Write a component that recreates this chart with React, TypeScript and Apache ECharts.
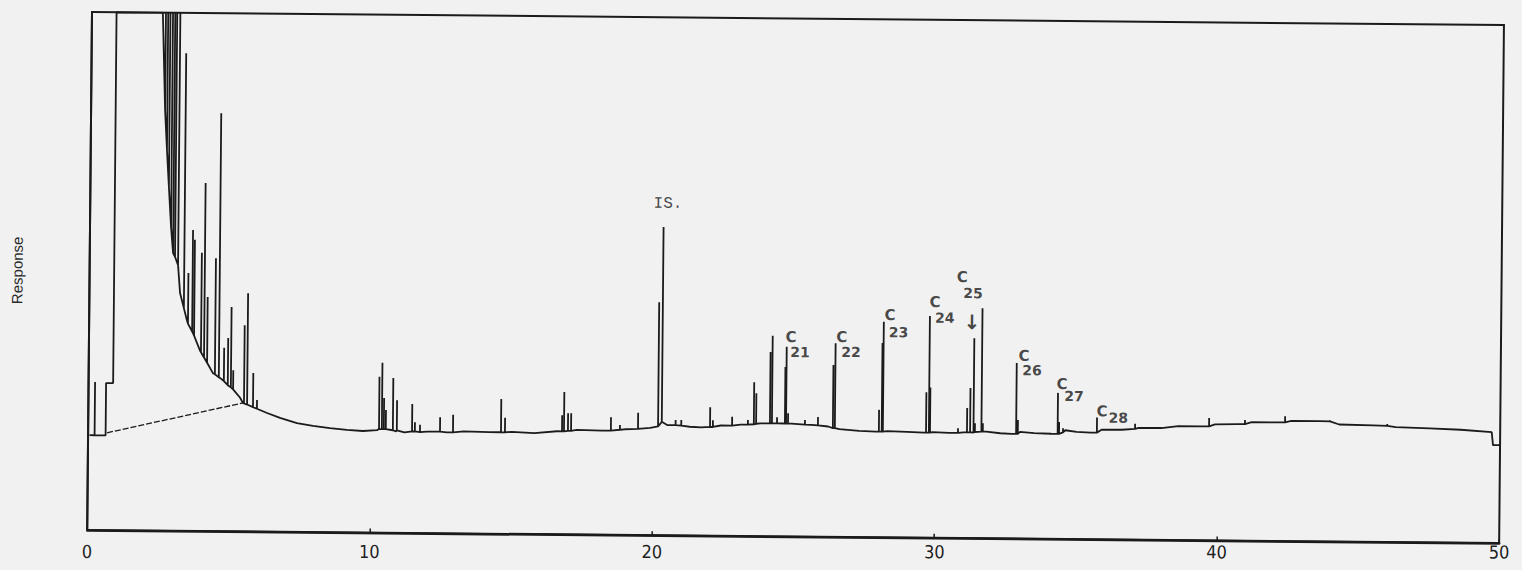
import { useEffect, useRef } from 'react';
import * as echarts from 'echarts';

// Retention-time axis ticks (minutes)
const xTicks = [0, 10, 20, 30, 40, 50];

// Detector trace between the peaks: [retention time, response]
const baseline: [number, number][] = [
  [0.05, 18.3], [0.62, 18.3], [0.62, 28.4], [0.87, 28.4], [0.87, 100], [2.51, 100],
  [2.62, 81.2], [2.7, 73.5], [2.78, 66.4], [2.87, 58.6], [2.95, 53.6], [3.02, 52.9], [3.13, 51.3],
  [3.21, 45.9], [3.46, 40.7], [3.68, 38.2], [3.93, 34.9], [4.19, 32.5], [4.4, 30.5],
  [4.65, 29.6], [5.01, 27.9], [5.37, 25.8], [5.47, 24.8], [5.83, 24.0], [6.33, 22.9],
  [6.79, 22.0], [7.39, 21.0], [7.96, 20.5], [8.56, 20.1], [9.16, 19.8], [9.73, 19.6],
  [10.23, 19.8], [10.9, 19.6], [11.2, 19.4], [12.0, 19.6], [12.7, 19.5], [13.3, 19.7],
  [14.2, 19.6], [15.0, 19.7], [15.8, 19.5], [16.6, 19.9], [17.3, 20.2], [18.2, 20.1],
  [19.0, 20.4], [19.9, 20.7], [20.5, 21.3], [21.3, 21.0], [21.7, 20.9], [22.4, 21.3],
  [23.1, 21.5], [23.8, 21.8], [24.9, 21.8], [25.6, 21.6], [26.2, 21.3], [26.6, 20.8],
  [27.3, 20.5], [27.9, 20.4], [28.3, 20.5], [29.0, 20.4], [29.6, 20.3], [29.9, 20.4],
  [30.5, 20.3], [31.0, 20.4], [31.8, 20.6], [32.3, 20.3], [32.7, 20.2], [33.0, 20.6],
  [33.5, 20.4], [34.1, 20.3], [34.6, 21.0], [35.0, 20.7], [35.5, 20.6], [35.9, 21.2],
  [36.6, 21.2], [37.2, 21.6], [38.0, 21.6], [38.6, 22.0], [39.4, 22.0], [39.9, 22.4],
  [40.7, 22.5], [41.2, 22.9], [42.0, 22.9], [42.6, 23.2], [43.6, 23.2], [44.3, 22.6],
  [45.5, 22.5], [46.3, 22.2], [47.5, 22.0], [48.6, 21.8], [49.7, 21.4], [49.75, 18.9],
  [50.0, 18.9],
];

// Peaks: [retention time, foot, apex]
const peaks: [number, number, number][] = [
  [0.23, 18.3, 28.6],
  [2.62, 81.2, 100], [2.7, 73.5, 100], [2.78, 66.4, 100], [2.87, 58.6, 100],
  [2.95, 53.6, 100], [3.02, 52.9, 100], [3.13, 51.3, 100],
  [3.35, 43.0, 92.2], [3.5, 40.0, 49.8], [3.65, 38.5, 58.1], [3.72, 37.7, 56.2],
  [3.97, 34.5, 53.7], [4.08, 33.5, 67.2], [4.19, 32.5, 45.2], [4.47, 30.3, 52.7],
  [4.61, 29.7, 80.7], [4.79, 29.0, 35.4], [4.93, 28.2, 37.3], [5.04, 27.8, 43.3],
  [5.12, 27.4, 31.1], [5.51, 24.7, 39.8], [5.62, 24.5, 46.0], [5.83, 24.0, 30.6],
  [5.97, 23.7, 25.4],
  [10.3, 20.0, 30.1], [10.4, 20.0, 32.8], [10.47, 20.0, 26.0], [10.54, 20.0, 23.7],
  [10.79, 19.8, 29.9], [10.93, 19.8, 25.6], [11.47, 19.6, 24.9], [11.57, 19.6, 21.4],
  [11.75, 19.5, 20.9], [12.46, 19.6, 22.4], [12.92, 19.5, 22.9], [14.62, 19.6, 26.0],
  [14.76, 19.6, 22.4], [16.78, 19.9, 23.0], [16.85, 19.9, 27.5], [16.99, 20.0, 23.4],
  [17.1, 20.0, 23.4], [18.51, 20.1, 22.7], [18.83, 20.3, 21.2], [19.47, 20.5, 23.6],
  [20.18, 21.0, 45.0], [20.31, 21.9, 59.5], [20.8, 21.3, 22.3], [21.0, 21.2, 22.3],
  [22.02, 21.0, 24.8], [22.12, 21.0, 22.3], [22.8, 21.3, 23.0], [23.36, 21.5, 22.4],
  [23.57, 21.6, 29.7], [23.65, 21.7, 27.6], [24.14, 21.8, 35.6], [24.21, 21.8, 38.7],
  [24.39, 21.8, 23.0], [24.67, 21.8, 32.7], [24.71, 21.8, 36.6], [24.78, 21.8, 23.8],
  [25.38, 21.6, 22.5], [25.84, 21.5, 23.1], [26.37, 21.0, 33.2], [26.44, 21.0, 37.4],
  [28.0, 20.4, 24.6], [28.1, 20.4, 37.5], [28.14, 20.4, 41.6],
  [29.67, 20.3, 28.1], [29.77, 20.3, 42.8], [29.81, 20.3, 29.0],
  [30.8, 20.3, 21.2], [31.12, 20.4, 25.1], [31.23, 20.4, 29.0], [31.35, 20.4, 38.6],
  [31.4, 20.5, 22.2], [31.63, 20.6, 44.4], [31.68, 20.6, 22.2],
  [32.86, 20.2, 33.9], [32.92, 20.2, 22.9],
  [34.33, 20.3, 28.2], [34.38, 20.3, 22.6], [34.52, 20.6, 21.4],
  [35.72, 20.6, 23.5], [37.07, 21.4, 22.4], [39.69, 22.0, 23.6], [40.96, 22.5, 23.3],
  [42.38, 22.9, 24.1], [43.97, 23.2, 23.4], [46.0, 22.4, 22.8],
];

// Straight baseline drawn under the solvent tail by the integrator
const integratorBaseline: [number, number][] = [[0.67, 18.8], [5.47, 24.8]];

// n-alkane annotations
const carbonNumbers = ['21', '22', '23', '24', '25', '26', '27', '28'];
const carbonLetterAt: [number, number][] = [
  [24.86, 38.5], [26.66, 38.6], [28.36, 42.9], [29.95, 45.5],
  [30.9, 50.4], [33.12, 35.3], [34.47, 29.9], [35.9, 24.7],
];
const carbonNumberAt: [number, number][] = [
  [25.18, 35.6], [26.99, 35.7], [28.66, 39.6], [30.3, 42.5],
  [31.29, 47.3], [33.4, 32.5], [34.9, 27.6], [36.47, 23.5],
];
const standardLabel = 'IS.';
const standardLabelAt: [number, number] = [20.46, 64.0];
const arrowLabel = '↓';
const arrowAt: [number, number] = [31.26, 41.7];

const INK = '#1b1b1b';
const NARROW = "'Liberation Sans Narrow', 'DejaVu Sans Condensed', 'Liberation Sans', sans-serif";
const LETTERING = "'DejaVu Sans', 'Liberation Sans', sans-serif";

function buildTrace(): [number, number][] {
  const groups: { t: number; pts: [number, number][] }[] = [];
  baseline.forEach(([t, v]) => groups.push({ t, pts: [[t, v]] }));
  peaks.forEach(([t, foot, apex]) =>
    groups.push({ t, pts: [[t, foot], [t, apex], [t, foot]] })
  );
  groups.sort((a, b) => a.t - b.t);
  const out: [number, number][] = [];
  groups.forEach((g) => g.pts.forEach((p) => out.push(p)));
  return out;
}

function textPoint(pos: [number, number], text: string, style: Record<string, unknown>) {
  return {
    value: pos,
    label: { show: true, position: 'inside', formatter: text, ...style },
  };
}

export default function App() {
  const ref = useRef<HTMLDivElement>(null);

  useEffect(() => {
    if (!ref.current) return;
    const chart = echarts.init(ref.current, undefined, { renderer: 'svg' });

    const rich: Record<string, unknown> = {};
    xTicks.forEach((v, i) => {
      rich['t' + i] = {
        fontFamily: NARROW,
        fontSize: 18,
        color: '#1e1e1e',
        padding: [12.5 - 0.25 * v, 0, 0, 0],
      };
    });

    const letterStyle = {
      fontFamily: LETTERING, fontWeight: 'bold', fontSize: 15, lineHeight: 12, color: '#1a1a1a',
    };
    const numberStyle = {
      fontFamily: LETTERING, fontWeight: 'bold', fontSize: 14, lineHeight: 10, color: '#1a1a1a',
    };

    const labelData = [
      textPoint(standardLabelAt, standardLabel, {
        fontFamily: "'Liberation Mono', 'DejaVu Sans Mono', monospace",
        fontSize: 16,
        lineHeight: 14,
        color: '#151515',
      }),
      textPoint(arrowAt, arrowLabel, {
        fontFamily: LETTERING, fontWeight: 'bold', fontSize: 20, lineHeight: 18, color: '#151515',
      }),
      ...carbonNumbers.map((_, i) => textPoint(carbonLetterAt[i], 'C', letterStyle)),
      ...carbonNumbers.map((n, i) => textPoint(carbonNumberAt[i], n, numberStyle)),
    ];

    chart.setOption({
      animation: false,
      backgroundColor: 'transparent',
      grid: {
        left: 92,
        top: 12,
        width: 1412,
        height: 518,
        show: true,
        borderColor: INK,
        borderWidth: 2,
        backgroundColor: 'transparent',
      },
      xAxis: {
        type: 'value',
        min: 0,
        max: 50,
        interval: 10,
        axisLine: { show: true, lineStyle: { color: INK, width: 2.5 } },
        axisTick: { show: true, inside: true, length: 4, lineStyle: { color: INK, width: 1.5 } },
        splitLine: { show: false },
        axisLabel: {
          margin: 0,
          formatter: (v: number) => {
            const i = xTicks.indexOf(v);
            return i < 0 ? '' : `{t${i}|${v}}`;
          },
          rich,
        },
      },
      yAxis: {
        type: 'value',
        min: 0,
        max: 100,
        name: 'Response',
        nameLocation: 'middle',
        nameGap: 65,
        nameTextStyle: { fontFamily: "'Liberation Sans', Arial, sans-serif", fontSize: 15, color: '#2a2a2a' },
        axisLine: { show: true, lineStyle: { color: INK, width: 2 } },
        axisTick: { show: false },
        axisLabel: { show: false },
        splitLine: { show: false },
      },
      series: [
        {
          type: 'line',
          name: 'trace',
          data: buildTrace(),
          showSymbol: false,
          symbol: 'none',
          silent: true,
          clip: true,
          lineStyle: { color: INK, width: 1.8 },
        },
        {
          type: 'line',
          name: 'integrator baseline',
          data: integratorBaseline,
          showSymbol: false,
          symbol: 'none',
          silent: true,
          lineStyle: { color: INK, width: 1.3, type: [6, 2] },
        },
        {
          type: 'scatter',
          name: 'labels',
          data: labelData,
          symbolSize: 1,
          itemStyle: { color: 'rgba(0,0,0,0)' },
          silent: true,
        },
      ],
    });

    return () => chart.dispose();
  }, []);

  return (
    <div
      style={{
        position: 'fixed',
        left: 0,
        top: 0,
        width: 1522,
        height: 570,
        background: '#f1f1f1',
        overflow: 'hidden',
      }}
    >
      <div
        ref={ref}
        style={{
          width: 1522,
          height: 570,
          transform: 'rotate(0.53deg)',
          transformOrigin: '92px 12px',
        }}
      />
    </div>
  );
}
